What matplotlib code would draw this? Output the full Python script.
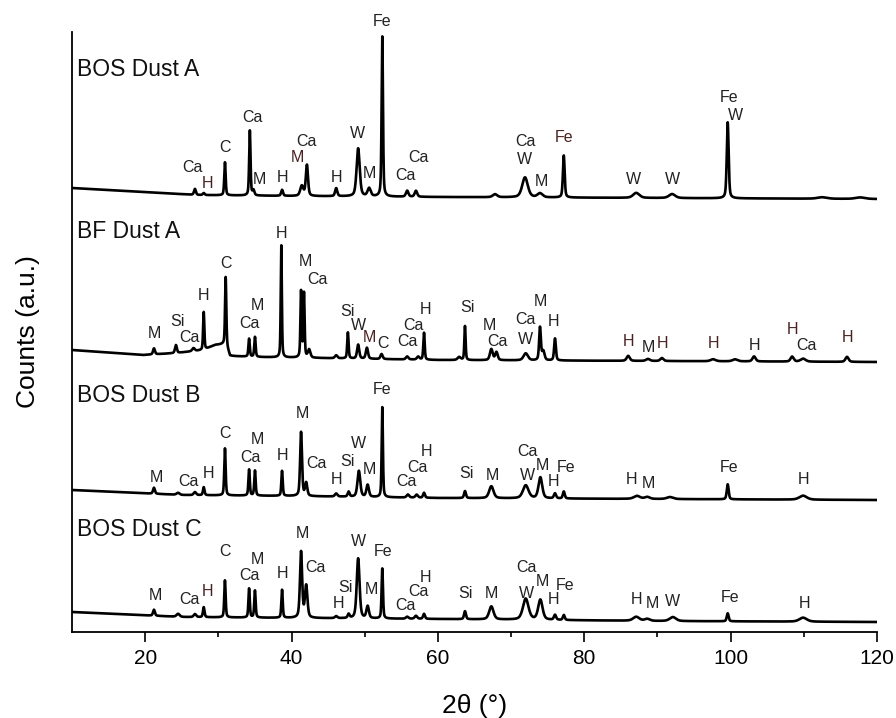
import numpy as np
import matplotlib
matplotlib.use("Agg")
import matplotlib.pyplot as plt

plt.rcParams['font.family'] = ['Liberation Sans', 'DejaVu Sans']

# ---------------- data ----------------
# 2theta range
x_min, x_max = 10, 120

# Trace names and label anchor (2theta, intensity in stacked units)
trace_names = ["BOS Dust A", "BF Dust A", "BOS Dust B", "BOS Dust C"]
name_pos = [(10.7, 562), (10.7, 400), (10.7, 237), (10.7, 102)]

# Background (baseline) points per trace: 2theta, stacked intensity
bg_a_x = [10, 20, 27, 40, 60, 90, 120]
bg_a_y = [444, 440, 437, 436, 435, 434, 433]
bg_b_x = [10, 19.7, 24.3, 28.0, 29.5, 31.0, 31.6, 35, 60, 90, 120]
bg_b_y = [282, 277, 279, 282, 287, 288, 276, 275, 272, 271, 270]
bg_c_x = [10, 25, 40, 60, 90, 120]
bg_c_y = [142, 137, 136, 134, 133, 132]
bg_d_x = [10, 25, 40, 60, 90, 120]
bg_d_y = [20, 15, 14, 13, 11, 10]

# Peaks: position (2theta), height above background, FWHM (deg)
pk_a_pos = [26.8, 28.0, 30.9, 34.3, 34.8, 38.7, 41.4, 42.1, 46.1, 49.1, 50.6, 52.4,
            55.8, 57.0, 67.8, 71.9, 73.95, 77.2, 87.1, 92.0, 99.6, 112.5, 117.7]
pk_a_h = [6, 2, 33, 65, 5, 6, 10, 31, 8, 48, 8, 160,
          6, 6, 3, 20, 4, 42, 5, 4, 76, 1.5, 1.5]
pk_a_w = [0.3, 0.3, 0.22, 0.22, 0.3, 0.3, 0.5, 0.35, 0.35, 0.5, 0.5, 0.22,
          0.4, 0.4, 0.7, 0.9, 0.8, 0.28, 1.0, 1.0, 0.3, 1.5, 1.5]

pk_b_pos = [21.2, 24.2, 26.6, 28.0, 31.0, 34.2, 35.0, 38.6, 41.3, 41.7, 42.4, 46.1,
            47.7, 49.1, 50.3, 52.3, 55.8, 57.3, 58.1, 62.9, 63.7, 67.3, 68.0, 72.0,
            73.95, 74.4, 76.0, 86.0, 88.7, 90.6, 97.6, 100.6, 103.2, 108.4, 109.9, 115.9]
pk_b_h = [6, 8, 3, 38, 67, 18, 20, 112, 66, 64, 8, 3,
          26, 14, 11, 5, 3, 3, 27, 3, 34, 11, 8, 7,
          33, 9, 22, 5, 2, 3, 2, 2, 5, 5, 3, 5]
pk_b_w = [0.3, 0.3, 0.4, 0.2, 0.2, 0.22, 0.22, 0.18, 0.2, 0.2, 0.4, 0.4,
          0.22, 0.35, 0.35, 0.35, 0.4, 0.4, 0.22, 0.5, 0.2, 0.45, 0.4, 0.7,
          0.28, 0.4, 0.28, 0.5, 0.6, 0.5, 0.8, 0.8, 0.5, 0.5, 0.8, 0.5]

pk_c_pos = [21.2, 24.5, 26.8, 28.0, 30.9, 34.2, 35.0, 38.7, 41.3, 42.0, 46.1, 47.8,
            49.2, 50.4, 52.4, 55.9, 57.1, 58.1, 63.7, 67.3, 72.0, 74.0, 76.0, 77.2,
            87.2, 88.6, 91.7, 99.6, 109.9]
pk_c_h = [6, 2, 3, 8, 47, 26, 25, 25, 64, 13, 3, 5,
          26, 12, 90, 3, 3, 5, 7, 12, 13, 21, 5, 7,
          3, 2, 2, 15, 4]
pk_c_w = [0.3, 0.5, 0.4, 0.25, 0.22, 0.22, 0.22, 0.22, 0.3, 0.35, 0.4, 0.3,
          0.45, 0.4, 0.2, 0.4, 0.4, 0.3, 0.3, 0.7, 0.9, 0.6, 0.35, 0.3,
          1.0, 0.8, 1.0, 0.3, 1.2]

pk_d_pos = [21.2, 24.5, 26.8, 28.0, 30.9, 34.2, 35.0, 38.7, 41.3, 42.0, 46.1, 47.8,
            49.1, 50.4, 52.4, 55.8, 57.0, 58.1, 63.7, 67.3, 72.0, 74.0, 76.0, 77.2,
            87.1, 88.6, 92.1, 99.6, 109.9]
pk_d_h = [6, 3, 3, 10, 37, 29, 27, 28, 66, 32, 2, 4,
          60, 12, 50, 2, 3, 5, 8, 13, 21, 20, 5, 5,
          4, 2, 4, 8, 4]
pk_d_w = [0.3, 0.5, 0.4, 0.25, 0.22, 0.22, 0.22, 0.22, 0.35, 0.4, 0.4, 0.3,
          0.45, 0.4, 0.22, 0.4, 0.4, 0.3, 0.3, 0.7, 0.9, 0.7, 0.35, 0.3,
          1.0, 0.8, 1.0, 0.3, 1.2]

# Phase labels: text, 2theta, stacked intensity, colour key (0 dark, 1 brown)
lab_a = [("Ca", 26.5, 465, 0), ("H", 28.45, 449, 1), ("C", 30.9, 485, 0), ("Ca", 34.6, 515, 0),
         ("M", 35.55, 452, 0), ("H", 38.8, 455, 0), ("M", 40.75, 475, 1), ("Ca", 42.1, 491, 0),
         ("H", 46.2, 455, 0), ("W", 48.95, 499, 0), ("M", 50.6, 459, 0), ("Fe", 52.36, 611, 0),
         ("Ca", 55.5, 457, 0), ("Ca", 57.3, 475, 0), ("Ca", 71.9, 490, 0), ("W", 71.8, 472, 0),
         ("M", 74.2, 450, 0), ("Fe", 77.2, 495, 1), ("W", 86.7, 453, 0), ("W", 92.0, 452, 0),
         ("Fe", 99.8, 535, 0), ("W", 100.7, 517, 0)]
lab_b = [("M", 21.3, 298, 0), ("Si", 24.35, 310, 0), ("Ca", 26.1, 294, 0), ("H", 28.0, 336, 0),
         ("C", 31.0, 369, 0), ("Ca", 34.2, 309, 0), ("M", 35.3, 327, 0), ("H", 38.56, 398, 0),
         ("M", 41.85, 371, 0), ("Ca", 43.5, 353, 0), ("Si", 47.6, 321, 0), ("W", 49.1, 306, 0),
         ("M", 50.7, 295, 1), ("C", 52.5, 289, 0), ("Ca", 55.8, 290, 0), ("Ca", 56.6, 307, 0),
         ("H", 58.25, 322, 0), ("Si", 64.0, 325, 0), ("M", 67.1, 307, 0), ("Ca", 68.2, 290, 0),
         ("Ca", 71.9, 313, 0), ("W", 71.9, 293, 0), ("M", 73.95, 331, 0), ("H", 75.85, 311, 0),
         ("H", 86.0, 290, 1), ("M", 88.7, 285, 0), ("H", 90.75, 289, 1), ("H", 97.6, 288, 1),
         ("H", 103.2, 286, 0), ("H", 108.4, 303, 1), ("Ca", 110.3, 287, 0), ("H", 116.0, 294, 1)]
lab_c = [("M", 21.5, 155, 0), ("Ca", 25.85, 150, 0), ("H", 28.6, 159, 0), ("C", 30.9, 198, 0),
         ("Ca", 34.45, 174, 0), ("M", 35.3, 193, 0), ("H", 38.7, 177, 0), ("M", 41.55, 218, 0),
         ("Ca", 43.35, 169, 0), ("H", 46.1, 152, 0), ("Si", 47.6, 170, 0), ("W", 49.1, 188, 0),
         ("M", 50.7, 162, 0), ("Fe", 52.36, 243, 0), ("Ca", 55.65, 151, 0), ("Ca", 57.15, 164, 0),
         ("H", 58.5, 181, 0), ("Si", 63.85, 158, 0), ("M", 67.4, 157, 0), ("Ca", 72.2, 181, 0),
         ("W", 72.2, 157, 0), ("M", 74.35, 167, 0), ("H", 75.75, 150, 0), ("Fe", 77.5, 165, 0),
         ("H", 86.4, 153, 0), ("M", 88.7, 148, 0), ("Fe", 99.8, 164, 0), ("H", 109.9, 152, 0)]
lab_d = [("M", 21.35, 36, 0), ("Ca", 26.0, 33, 0), ("H", 28.45, 41, 1), ("C", 30.9, 80, 0),
         ("Ca", 34.3, 56, 0), ("M", 35.3, 73, 0), ("H", 38.7, 59, 0), ("M", 41.55, 99, 0),
         ("Ca", 43.2, 64, 0), ("H", 46.35, 28, 0), ("Si", 47.3, 45, 0), ("W", 49.1, 91, 0),
         ("M", 50.85, 43, 0), ("Fe", 52.5, 80, 0), ("Ca", 55.5, 26, 0), ("Ca", 57.3, 40, 0),
         ("H", 58.35, 55, 0), ("Si", 63.7, 39, 0), ("M", 67.25, 39, 0), ("Ca", 72.05, 64, 0),
         ("W", 72.05, 39, 0), ("M", 74.35, 50, 0), ("H", 75.75, 33, 0), ("Fe", 77.4, 46, 0),
         ("H", 87.2, 32, 0), ("M", 89.25, 29, 0), ("W", 92.1, 30, 0), ("Fe", 99.9, 34, 0),
         ("H", 110.15, 28, 0)]

x_ticks = [20, 40, 60, 80, 100, 120]
x_minor = [30, 50, 70, 90, 110]

# ---------------- drawing ----------------
def profile(x, pos, h, w, eta=0.45):
    y = np.zeros_like(x)
    for p, a, f in zip(pos, h, w):
        g = np.exp(-4 * np.log(2) * ((x - p) / f) ** 2)
        l = 1.0 / (1.0 + 4 * ((x - p) / f) ** 2)
        y += a * (eta * l + (1 - eta) * g)
    return y

fig = plt.figure(figsize=(8.96, 7.18), dpi=100)
ax = fig.add_axes([72/896, 1-632/718, (877-72)/896, 600/718])

xx = np.arange(x_min, x_max + 0.001, 0.02)
traces = [
    (bg_a_x, bg_a_y, pk_a_pos, pk_a_h, pk_a_w),
    (bg_b_x, bg_b_y, pk_b_pos, pk_b_h, pk_b_w),
    (bg_c_x, bg_c_y, pk_c_pos, pk_c_h, pk_c_w),
    (bg_d_x, bg_d_y, pk_d_pos, pk_d_h, pk_d_w),
]
for bx, by, pp, ph, pw in traces:
    yy = np.interp(xx, bx, by) + profile(xx, pp, ph, pw)
    ax.plot(xx, yy, color='black', lw=1.9, solid_joinstyle='round')

cols = {0: '#222222', 1: '#4a2222'}
for labs in (lab_a, lab_b, lab_c, lab_d):
    for t, lx, ly, c in labs:
        ax.text(lx, ly, t, ha='center', va='center', fontsize=11.5,
                color=cols[c], clip_on=False)

for name, (nx, ny) in zip(trace_names, name_pos):
    ax.text(nx, ny, name, ha='left', va='center', fontsize=16.5, color='#111111')

ax.set_xlim(x_min, x_max)
ax.set_ylim(0, 600)
ax.set_xticks(x_ticks)
ax.set_xticks(x_minor, minor=True)
ax.set_yticks([])
ax.tick_params(axis='x', which='major', direction='out', length=7, width=1.2,
               labelsize=15, pad=5)
ax.tick_params(axis='x', which='minor', direction='out', length=3.5, width=1.2)
for s in ('top', 'right'):
    ax.spines[s].set_visible(False)
for s in ('left', 'bottom'):
    ax.spines[s].set_linewidth(1.3)

ax.set_xlabel("2θ (°)", fontsize=19)
ax.set_ylabel("Counts (a.u.)", fontsize=19)
ax.xaxis.set_label_coords(0.5, -0.103)
ax.yaxis.set_label_coords(-0.04, 0.5)

fig.savefig("out.png", dpi=100)
